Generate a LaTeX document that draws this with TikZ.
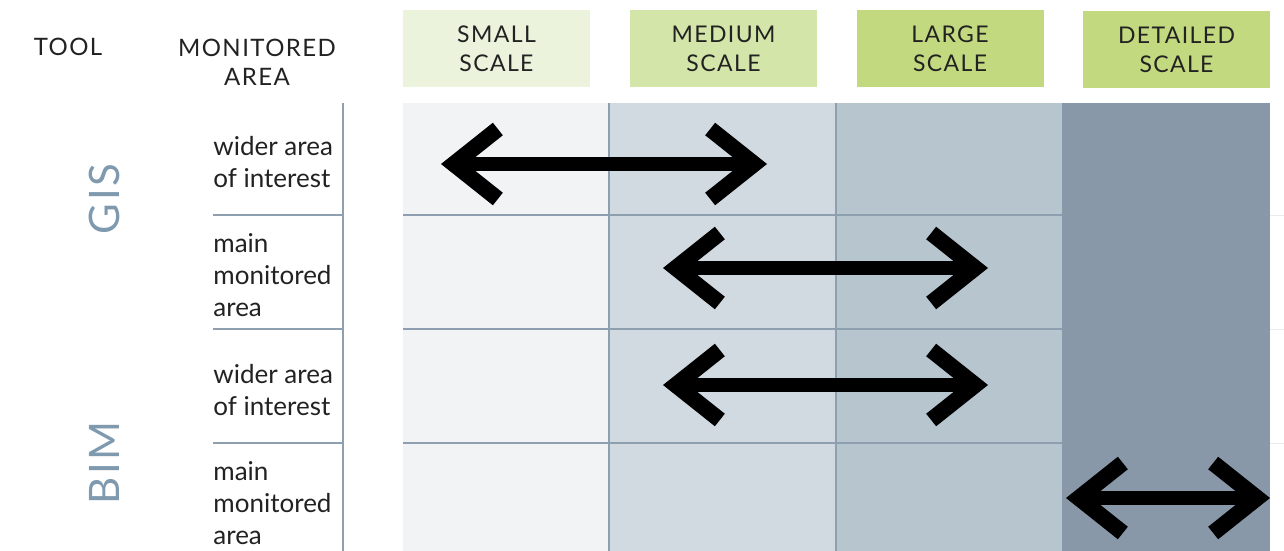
\documentclass[tikz,border=0pt]{standalone}
\usepackage{fontspec}
\setmainfont{Lato}
\usetikzlibrary{arrows.meta,positioning}
\definecolor{ink}{HTML}{222222}
\definecolor{toolblue}{HTML}{7F9AAF}
\definecolor{gridline}{HTML}{8E9FAF}
\definecolor{scalesmall}{HTML}{EBF3DC}
\definecolor{scalemedium}{HTML}{D4E5AA}
\definecolor{scalelarge}{HTML}{C3D97F}
\definecolor{colA}{HTML}{F2F3F5}
\definecolor{colB}{HTML}{D2DAE1}
\definecolor{colC}{HTML}{B7C5CF}
\definecolor{colD}{HTML}{8898A8}

\tikzset{
  scalebox/.style={minimum width=93.5pt, minimum height=38.5pt, inner sep=0pt,
    align=center, text=ink, font=\fontsize{11.5}{14.5}\selectfont\addfontfeatures{LetterSpace=6}},
  headtext/.style={align=center, text=ink, font=\fontsize{12}{14.5}\selectfont\addfontfeatures{LetterSpace=6}},
  rowtext/.style={anchor=west, align=left, inner sep=0pt, text=ink, font=\fontsize{13}{16}\selectfont},
  tooltext/.style={rotate=90, text=toolblue, font=\fontsize{21}{24}\selectfont\addfontfeatures{LetterSpace=6}},
  rangearrow/.style={line width=7pt, >={Straight Barb[sharp, length=22pt, width=35pt, line width=8pt]}, <->}
}

\begin{document}
\begin{tikzpicture}[x=0.5pt, y=-0.5pt]
  \useasboundingbox (0,0) rectangle (1284,551);
  % column backgrounds
  \fill[colA] (403,103) rectangle (609,551);
  \fill[colB] (609,103) rectangle (836,551);
  \fill[colC] (836,103) rectangle (1062,551);
  \fill[colD] (1062,103) rectangle (1270,551);
  % grid lines
  \foreach \y in {215,329,443}{
    \draw[gridline, line width=1pt] (213,\y) -- (343,\y);
    \draw[gridline, line width=1pt] (403,\y) -- (1062,\y);
    \draw[gridline!20, line width=0.5pt] (1270,\y) -- (1284,\y);
  }
  \foreach \x in {609,836}
    \draw[gridline, line width=1pt] (\x,103) -- (\x,551);
  \draw[gridline, line width=1.2pt] (343,103) -- (343,551);

  % header
  \node[headtext] (tool) at (68,47) {TOOL};
  \node[headtext] (area) at (257,62) {MONITORED\\AREA};
  \node[scalebox, fill=scalesmall] (small) at (496.5,48.5) {SMALL\\SCALE};
  \node[scalebox, fill=scalemedium] (medium) at (723.5,48.5) {MEDIUM\\SCALE};
  \node[scalebox, fill=scalelarge] (large) at (950,48.5) {LARGE\\SCALE};
  \node[scalebox, fill=scalelarge] (detailed) at (1176.5,50) {DETAILED\\SCALE};

  % tools and monitored areas
  \node[tooltext] (gis) at (104,199) {GIS};
  \node[tooltext] (bim) at (104,463) {BIM};
  \node[rowtext] (gwide) at (213,162) {wider area\\of interest};
  \node[rowtext] (gmain) at (213,275) {main\\monitored\\area};
  \node[rowtext] (bwide) at (213,390) {wider area\\of interest};
  \node[rowtext] (bmain) at (213,503) {main\\monitored\\area};

  % scale ranges
  \coordinate (gwideL) at (441,164);  \coordinate (gwideR) at (767,164);
  \coordinate (gmainL) at (663,268);  \coordinate (gmainR) at (988,268);
  \coordinate (bwideL) at (663,385);  \coordinate (bwideR) at (988,385);
  \coordinate (bmainL) at (1066,498); \coordinate (bmainR) at (1270,498);
  \draw[rangearrow] (gwideL) -- (gwideR);
  \draw[rangearrow] (gmainL) -- (gmainR);
  \draw[rangearrow] (bwideL) -- (bwideR);
  \draw[rangearrow] (bmainL) -- (bmainR);
\end{tikzpicture}
\end{document}
